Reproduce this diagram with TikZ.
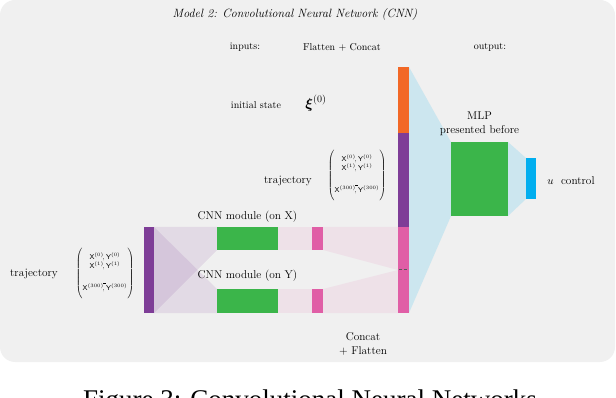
\documentclass[tikz,border=0pt]{standalone}
\usepackage{amsmath}
\usepackage{amssymb}
\usepackage{fontspec}
\newfontfamily\capfont{Liberation Serif}
\usetikzlibrary{arrows.meta,positioning,backgrounds}

\definecolor{bggray}{RGB}{240,240,240}
\definecolor{cnnorange}{RGB}{242,104,38}
\definecolor{cnnpurple}{RGB}{126,61,151}
\definecolor{cnnpink}{RGB}{224,94,166}
\definecolor{cnngreen}{RGB}{59,181,74}
\definecolor{cnncyan}{RGB}{0,174,239}

\newcommand{\trajmat}{$\left(\rule[-24pt]{0pt}{52pt}\begin{array}{@{}c@{}}
\mathsf{X}^{(0)}\!,\mathsf{Y}^{(0)}\\[-1pt]
\mathsf{X}^{(1)}\!,\mathsf{Y}^{(1)}\\[12pt]
\mathsf{X}^{(300)}\!,\llap{\rule[8pt]{3pt}{0.4pt}}\mathsf{Y}^{(300)}
\end{array}\right)$}

\begin{document}
\begin{tikzpicture}[x=1pt, y=-1pt]
    \tikzstyle{blk}=[inner sep=0pt, outer sep=0pt, draw=none]
    \tikzstyle{lbl}=[inner sep=1pt]
    \tikzstyle{biglbl}=[inner sep=1pt, font=\fontsize{11.3}{13.8}\selectfont]
    \tikzstyle{purfan}=[fill=cnnpurple, fill opacity=0.12]
    \tikzstyle{pinkfan}=[fill=cnnpink, fill opacity=0.1]
    \tikzstyle{bluefan}=[fill=cnncyan, fill opacity=0.15]
    \clip (0,0) rectangle (616,398);

    \node[blk, fill=cnnpurple, minimum width=10pt, minimum height=86pt] (barL) at (149,270) {};
    \node[blk, fill=cnngreen, minimum width=61pt, minimum height=23pt] (cnnX) at (247.5,238.5) {};
    \node[blk, fill=cnngreen, minimum width=61pt, minimum height=24pt] (cnnY) at (247.5,301) {};
    \node[blk, fill=cnnpink, minimum width=11pt, minimum height=23pt] (pkX) at (317.5,238.5) {};
    \node[blk, fill=cnnpink, minimum width=11pt, minimum height=24pt] (pkY) at (317.5,301) {};
    \node[blk, fill=cnnorange, minimum width=11pt, minimum height=66pt] (catO) at (403.5,100) {};
    \node[blk, fill=cnnpurple, minimum width=11pt, minimum height=94pt, below=0pt of catO] (catU) {};
    \node[blk, fill=cnnpink, minimum width=11pt, minimum height=86pt, below=0pt of catU] (catP) {};
    \node[blk, fill=cnngreen, minimum width=57pt, minimum height=74pt] (mlp) at (479.5,179) {};
    \node[blk, fill=cnncyan, minimum width=10pt, minimum height=41pt] (out) at (531,178.5) {};
    \draw[black!65, dash pattern=on 3pt off 2pt, line width=1pt] ([xshift=1pt]catP.west) -- (catP.east);

    \node[lbl, font=\large\itshape] (title) at (295,15) {Model 2: Convolutional Neural Network (CNN)};
    \node[lbl] (inputs) at (245,47) {inputs:};
    \node[lbl] (flat) at (342,47) {Flatten + Concat};
    \node[lbl] (output) at (490,47) {output:};
    \node[lbl] (init) at (256,105) {initial state};
    \node[lbl, font=\Large] (xi) at (316,103) {$\boldsymbol{\xi}^{(0)}$};
    \node[biglbl] (trajUtxt) at (288,181) {trajectory};
    \node[lbl, font=\scriptsize] (trajU) at (357,175) {\trajmat};
    \node[biglbl] (trajLtxt) at (34,274) {trajectory};
    \node[lbl, font=\scriptsize] (trajL) at (105,273) {\trajmat};
    \node[biglbl, above=3pt of cnnX] (cnnXtxt) {CNN module (on X)};
    \node[biglbl] (cnnYtxt) at (247.5,276) {CNN module (on Y)};
    \node[biglbl, align=center] (concat) at (363,344) {Concat\\+ Flatten};
    \node[biglbl, align=center, above=5pt of mlp] (mlptxt) {MLP\\presented before};
    \node[biglbl] (ctrl) at (571,181) {$u$~~control};
    \node[font=\capfont\fontsize{27}{31}\selectfont, anchor=base] (caption) at (310,408) {Figure 3: Convolutional Neural Networks};

    \begin{scope}[on background layer]
        \fill[bggray, rounded corners=15pt] (0,0) rectangle (615,362);
        \fill[purfan] (barL.north east) -- (cnnX.north west) -- (cnnX.south west) -- (barL.south east) -- cycle;
        \fill[purfan] (barL.north east) -- (cnnY.north west) -- (cnnY.south west) -- (barL.south east) -- cycle;
        \fill[pinkfan] (cnnX.north east) -- (pkX.north west) -- (pkX.south west) -- (cnnX.south east) -- cycle;
        \fill[pinkfan] (cnnY.north east) -- (pkY.north west) -- (pkY.south west) -- (cnnY.south east) -- cycle;
        \fill[pinkfan] (pkX.north east) -- (catP.north west) -- (catP.west) -- (pkX.south east) -- cycle;
        \fill[pinkfan] (pkY.north east) -- (catP.west) -- (catP.south west) -- (pkY.south east) -- cycle;
        \fill[bluefan] (catO.north east) -- (mlp.north west) -- (mlp.south west) -- (catP.south east) -- cycle;
        \fill[bluefan] (mlp.north east) -- (out.north west) -- (out.south west) -- (mlp.south east) -- cycle;
    \end{scope}
\end{tikzpicture}
\end{document}
